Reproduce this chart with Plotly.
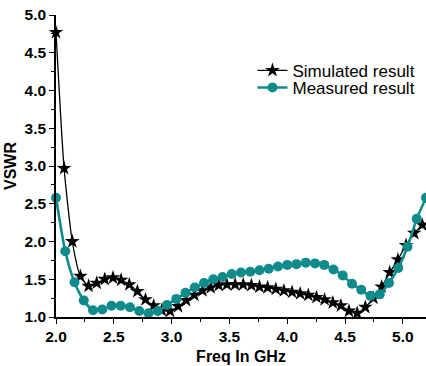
import plotly.graph_objects as go

# Simulated result (stars)
sim_freq = [2.000, 2.070, 2.141, 2.211, 2.282, 2.352, 2.422, 2.493, 2.563, 2.634,
            2.704, 2.774, 2.845, 2.915, 2.986, 3.056, 3.126, 3.197, 3.267, 3.338,
            3.408, 3.478, 3.549, 3.619, 3.690, 3.760, 3.830, 3.901, 3.971, 4.042,
            4.112, 4.182, 4.253, 4.323, 4.394, 4.464, 4.534, 4.605, 4.675, 4.746,
            4.816, 4.886, 4.957, 5.027, 5.098, 5.168]
sim_vswr = [4.77, 2.97, 2.00, 1.54, 1.41, 1.45, 1.50, 1.52, 1.49, 1.43,
            1.34, 1.23, 1.15, 1.09, 1.08, 1.14, 1.22, 1.29, 1.35, 1.39,
            1.42, 1.43, 1.43, 1.43, 1.42, 1.40, 1.39, 1.37, 1.35, 1.33,
            1.31, 1.29, 1.26, 1.23, 1.19, 1.15, 1.08, 1.05, 1.13, 1.25,
            1.40, 1.59, 1.76, 1.95, 2.11, 2.22]

# Measured result (circles)
meas_freq = [2.00, 2.08, 2.16, 2.24, 2.32, 2.40, 2.48, 2.56, 2.64, 2.72,
             2.80, 2.88, 2.96, 3.04, 3.12, 3.20, 3.28, 3.36, 3.44, 3.52,
             3.60, 3.68, 3.76, 3.84, 3.92, 4.00, 4.08, 4.16, 4.24, 4.32,
             4.40, 4.48, 4.56, 4.64, 4.72, 4.80, 4.88, 4.96, 5.04, 5.12, 5.20]
meas_vswr = [2.58, 1.87, 1.46, 1.22, 1.09, 1.10, 1.15, 1.15, 1.13, 1.08,
             1.05, 1.08, 1.16, 1.24, 1.32, 1.39, 1.45, 1.50, 1.53, 1.57,
             1.59, 1.60, 1.62, 1.64, 1.67, 1.69, 1.70, 1.72, 1.71, 1.69,
             1.63, 1.55, 1.44, 1.36, 1.28, 1.30, 1.45, 1.65, 1.93, 2.30, 2.58]

x_ticks = [2.0, 2.5, 3.0, 3.5, 4.0, 4.5, 5.0]
y_ticks = [1.0, 1.5, 2.0, 2.5, 3.0, 3.5, 4.0, 4.5, 5.0]

FONT = "Liberation Sans, Arial, Helvetica, sans-serif"
TEAL = "#0f8b8b"

fig = go.Figure()
fig.add_trace(go.Scatter(
    x=sim_freq, y=sim_vswr, name="Simulated result", mode="lines+markers",
    line=dict(color="black", width=1.3, shape="spline", smoothing=0.6),
    marker=dict(symbol="star", size=11, color="black"),
    cliponaxis=False, legend="legend"))
fig.add_trace(go.Scatter(
    x=meas_freq, y=meas_vswr, name="Measured result", mode="lines+markers",
    line=dict(color=TEAL, width=2.6, shape="spline", smoothing=0.6),
    marker=dict(symbol="circle", size=10, color=TEAL),
    cliponaxis=False, legend="legend2"))

axis_common = dict(
    showgrid=False, zeroline=False, showline=True, linecolor="black", linewidth=1.5,
    ticks="outside", ticklen=5, tickwidth=1.3, tickcolor="black",
    tickfont=dict(family=FONT, size=15.5, color="black", weight="bold"),
    automargin=False,
)

fig.update_layout(
    width=426, height=366,
    margin=dict(l=56, r=0, t=15, b=49, autoexpand=False),
    paper_bgcolor="white", plot_bgcolor="white",
    font=dict(family=FONT, color="black"),
    xaxis=dict(range=[2.0, 5.2], tickvals=x_ticks, tickformat=".1f",
               title=dict(text="Freq In GHz", standoff=6,
                          font=dict(family=FONT, size=16, color="black", weight="bold")),
               minor=dict(ticks="outside", ticklen=3, tickwidth=1, tickcolor="black",
                          dtick=0.25, tick0=2.0),
               **axis_common),
    yaxis=dict(range=[1.0, 5.0], tickvals=y_ticks, tickformat=".1f",
               title=dict(text="VSWR", standoff=4,
                          font=dict(family=FONT, size=16, color="black", weight="bold")),
               minor=dict(ticks="outside", ticklen=3, tickwidth=1, tickcolor="black",
                          dtick=0.25, tick0=1.0),
               **axis_common),
    legend=dict(x=0.531, y=0.875, xanchor="left", yanchor="top",
                bgcolor="rgba(0,0,0,0)", borderwidth=0,
                font=dict(family=FONT, size=17, color="black")),
    legend2=dict(x=0.531, y=0.818, xanchor="left", yanchor="top",
                 bgcolor="rgba(0,0,0,0)", borderwidth=0,
                 font=dict(family=FONT, size=17, color="black")),
    showlegend=True,
)

fig.write_html("out.html", config={"displayModeBar": False},
               post_script="document.body.style.margin='0px';document.body.style.overflow='hidden';")
